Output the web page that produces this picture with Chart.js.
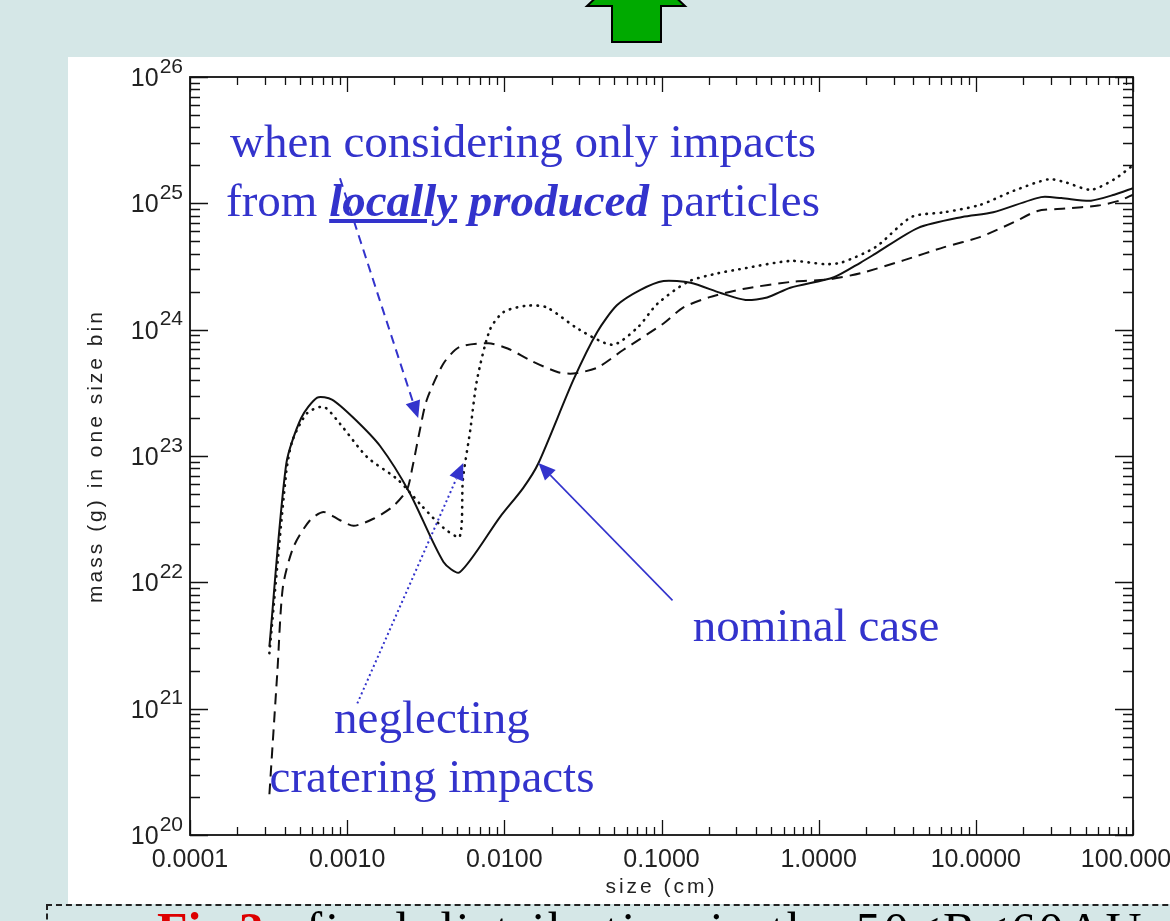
<!DOCTYPE html>
<html>
<head>
<meta charset="utf-8">
<script src="https://cdn.jsdelivr.net/npm/chart.js@4.4.1/dist/chart.umd.min.js"></script>
<style>
html,body{margin:0;padding:0;}
body{width:1170px;height:921px;overflow:hidden;position:relative;background:#d5e7e7;}
#panel{position:absolute;left:68px;top:57px;width:1102px;height:847px;background:#fff;}
#wrap{position:absolute;left:68px;top:57px;width:1102px;height:846px;}
.note{position:absolute;color:#3333cc;font-family:"Liberation Serif","Times New Roman",serif;font-size:47px;line-height:59px;text-align:center;white-space:nowrap;width:800px;}
.bi{font-weight:bold;font-style:italic;}
#caption{position:absolute;left:46px;top:904px;width:1200px;height:80px;border-top:2px dashed #222;border-left:2px dashed #222;font-family:"Liberation Serif","Times New Roman",serif;font-size:50px;line-height:60px;white-space:nowrap;}
#caption span.fig{color:#dd0000;font-weight:bold;}
#caption span.rest{color:#000;letter-spacing:3px;}
</style>
</head>
<body>
<svg style="position:absolute;left:0;top:0" width="1170" height="57">
  <polygon points="612,42 661,42 661,6 685,6 636,-40 587,6 612,6" fill="#00aa00" stroke="#000" stroke-width="2"/>
</svg>
<div id="panel"></div>
<div id="wrap"><canvas id="c" width="1102" height="846"></canvas></div>

<div class="note" style="left:123px;top:112px;">when considering only impacts<br>from <u class="bi">locally</u> <span class="bi">produced</span> particles</div>
<div class="note" style="left:416px;top:596px;">nominal case</div>
<div class="note" style="left:32px;top:688px;">neglecting<br>cratering impacts</div>

<div id="caption"><div style="position:absolute;left:109px;top:-6px;"><span class="fig">Fig.3:</span>&nbsp;&nbsp;<span class="rest">final distribution in the 50&lt;R&lt;60AU</span></div></div>

<script>
// ---- data ----
const nominalSize = [3.2e-4, 4.1e-4, 5.1e-4, 6.45e-4, 8.0e-4, 1.1e-3, 1.62e-3, 2.5e-3, 4.1e-3, 5.2e-3, 9.4e-3, 1.32e-2, 1.65e-2, 2.75e-2, 3.9e-2, 5.2e-2, 7.3e-2, 0.103, 0.153, 0.238, 0.343, 0.47, 0.66, 1.25, 1.85, 2.3, 4.3, 8.2, 12.9, 26, 35, 54, 76, 100];
const nominalMass = [3.1e21, 8.7e22, 2.0e23, 2.9e23, 2.8e23, 2.0e23, 1.2e23, 5.1e22, 1.45e22, 1.2e22, 3.3e22, 5.6e22, 8.8e22, 4.0e23, 9.6e23, 1.56e24, 2.06e24, 2.43e24, 2.35e24, 1.95e24, 1.72e24, 1.8e24, 2.15e24, 2.6e24, 3.4e24, 4.0e24, 6.4e24, 7.8e24, 8.5e24, 1.12e25, 1.1e25, 1.05e25, 1.17e25, 1.32e25];

const noCraterSize = [3.2e-4, 4.1e-4, 4.5e-4, 5.56e-4, 7.1e-4, 9.0e-4, 1.34e-3, 2.1e-3, 3.0e-3, 4.1e-3, 5.2e-3, 5.45e-3, 6.07e-3, 6.7e-3, 8.1e-3, 9.9e-3, 1.4e-2, 1.86e-2, 3.0e-2, 4.9e-2, 7.1e-2, 0.094, 0.148, 0.23, 0.31, 0.66, 1.1, 1.4, 2.3, 3.9, 6.3, 10.6, 17.5, 29, 37, 54, 76, 100];
const noCraterMass = [2.75e21, 7.5e22, 1.34e23, 2.18e23, 2.45e23, 1.8e23, 9.8e22, 6.5e22, 4.0e22, 2.7e22, 2.3e22, 6.5e22, 1.6e23, 4.0e23, 1.0e24, 1.38e24, 1.55e24, 1.5e24, 1.0e24, 7.6e23, 1.05e24, 1.6e24, 2.4e24, 2.8e24, 3.0e24, 3.5e24, 3.3e24, 3.4e24, 4.5e24, 7.8e24, 8.5e24, 9.7e24, 1.26e25, 1.55e25, 1.47e25, 1.28e25, 1.55e25, 2.0e25];

const localSize = [3.2e-4, 3.6e-4, 3.9e-4, 4.55e-4, 5.8e-4, 7.1e-4, 9.0e-4, 1.1e-3, 1.48e-3, 1.96e-3, 2.4e-3, 2.6e-3, 2.9e-3, 3.2e-3, 4.1e-3, 5.2e-3, 7.9e-3, 1.05e-2, 1.47e-2, 2.2e-2, 2.75e-2, 3.9e-2, 5.7e-2, 0.103, 0.138, 0.2, 0.33, 0.69, 1.15, 1.85, 3.5, 6.3, 10.6, 17.5, 24.7, 37, 60, 82, 100];
const localMass = [2.1e20, 2.0e21, 9.2e21, 1.9e22, 3.1e22, 3.6e22, 3.1e22, 2.8e22, 3.2e22, 4.0e22, 5.4e22, 8.1e22, 1.6e23, 2.75e23, 5.4e23, 7.3e23, 7.8e23, 7.1e23, 5.7e23, 4.6e23, 4.5e23, 5.0e23, 6.9e23, 1.12e24, 1.5e24, 1.8e24, 2.1e24, 2.4e24, 2.5e24, 2.8e24, 3.55e24, 4.5e24, 5.4e24, 7.1e24, 8.7e24, 9.1e24, 9.6e24, 1.05e25, 1.17e25];

const xTickValues = [1e-4, 1e-3, 1e-2, 1e-1, 1, 10, 100];
const xTickLabels = ['0.0001', '0.0010', '0.0100', '0.1000', '1.0000', '10.0000', '100.0000'];
const yTickExponents = [20, 21, 22, 23, 24, 25, 26];

// annotation arrows, in data coordinates (size cm, mass g)
const arrowNotes = [
  {from: [9.0e-4, 1.58e25], to: [2.83e-3, 2.0e23], dash: [9, 6], width: 2},
  {from: [1.16e-3, 1.1e21], to: [5.48e-3, 8.8e22], dash: [2, 3], width: 2},
  {from: [0.1175, 7.2e21], to: [0.01648, 8.8e22], dash: [], width: 1.6}
];

function pts(xs, ys) { return xs.map((x, i) => ({x: x, y: ys[i]})); }

// axis titles drawn with the wide tracking of the original plotting font
const titleSpacingPlugin = {
  id: 'titleSpacing',
  afterLayout(chart) {
    ['x', 'y'].forEach(id => {
      const s = chart.scales[id];
      if (!s || s._spaced) return;
      const orig = s.drawTitle.bind(s);
      s.drawTitle = function () {
        const c = this.ctx;
        const prev = c.letterSpacing;
        c.letterSpacing = '3px';
        orig();
        c.letterSpacing = prev || '0px';
      };
      s._spaced = true;
    });
  }
};

const framePlugin = {
  id: 'frame',
  afterDatasetsDraw(chart) {
    const c = chart.ctx, a = chart.chartArea, x = chart.scales.x, y = chart.scales.y;
    c.save();
    c.strokeStyle = '#111';
    c.lineWidth = 1.3;
    c.beginPath();
    for (let k = -4; k <= 2; k++) {
      for (let m = 1; m <= 9; m++) {
        const v = m * Math.pow(10, k);
        if (v > 100.0001) break;
        const px = Math.round(x.getPixelForValue(v)) + 0.5;
        const L = m === 1 ? 15 : 8;
        c.moveTo(px, a.bottom); c.lineTo(px, a.bottom - L);
        c.moveTo(px, a.top); c.lineTo(px, a.top + L);
      }
    }
    for (let k = 20; k <= 26; k++) {
      for (let m = 1; m <= 9; m++) {
        const v = m * Math.pow(10, k);
        if (v > 1.0001e26) break;
        const py = Math.round(y.getPixelForValue(v)) + 0.5;
        const L = m === 1 ? 18 : 10;
        c.moveTo(a.left, py); c.lineTo(a.left + L, py);
        c.moveTo(a.right, py); c.lineTo(a.right - L, py);
      }
    }
    c.stroke();
    c.lineWidth = 1.8;
    c.strokeRect(a.left, a.top, a.right - a.left, a.bottom - a.top);
    c.restore();

    // arrows
    const col = '#3333cc';
    arrowNotes.forEach(n => {
      const x1 = x.getPixelForValue(n.from[0]), y1 = y.getPixelForValue(n.from[1]);
      const x2 = x.getPixelForValue(n.to[0]), y2 = y.getPixelForValue(n.to[1]);
      const ang = Math.atan2(y2 - y1, x2 - x1);
      const hl = 17, hw = 7.5;
      const bx = x2 - hl * Math.cos(ang), by = y2 - hl * Math.sin(ang);
      c.save();
      c.strokeStyle = col; c.fillStyle = col;
      c.lineWidth = n.width;
      c.setLineDash(n.dash);
      c.beginPath(); c.moveTo(x1, y1); c.lineTo(bx, by); c.stroke();
      c.setLineDash([]);
      c.beginPath();
      c.moveTo(x2, y2);
      c.lineTo(bx + hw * Math.sin(ang), by - hw * Math.cos(ang));
      c.lineTo(bx - hw * Math.sin(ang), by + hw * Math.cos(ang));
      c.closePath(); c.fill();
      c.restore();
    });
  }
};

const yLabelPlugin = {
  id: 'yLabels',
  afterDraw(chart) {
    const s = chart.scales.y, c = chart.ctx, a = chart.chartArea;
    c.save();
    c.fillStyle = '#222';
    c.textBaseline = 'alphabetic';
    yTickExponents.forEach(e => {
      const py = s.getPixelForValue(Math.pow(10, e));
      const ex = String(e);
      c.font = '21px "Liberation Sans", Arial, sans-serif';
      const ew = c.measureText(ex).width;
      const right = a.left - 7;
      c.textAlign = 'left';
      c.fillText(ex, right - ew, py - 4.5);
      c.font = '25px "Liberation Sans", Arial, sans-serif';
      c.textAlign = 'right';
      c.fillText('10', right - ew - 1, py + 9);
    });
    c.restore();
  }
};

const lineBase = {borderColor: '#111', borderWidth: 2, pointRadius: 0, fill: false, tension: 0.25};

new Chart(document.getElementById('c'), {
  type: 'line',
  data: {
    datasets: [
      Object.assign({label: 'nominal case', data: pts(nominalSize, nominalMass)}, lineBase),
      Object.assign({label: 'neglecting cratering impacts', data: pts(noCraterSize, noCraterMass)}, lineBase, {borderDash: [0.5, 6.5], borderCapStyle: 'round', borderWidth: 2.6}),
      Object.assign({label: 'only impacts from locally produced particles', data: pts(localSize, localMass), borderDash: [11, 7]}, lineBase)
    ]
  },
  options: {
    responsive: false,
    animation: false,
    layout: {padding: {left: 0, right: 37, top: 20, bottom: 0}},
    plugins: {legend: {display: false}, tooltip: {enabled: false}},
    scales: {
      x: {
        type: 'logarithmic', min: 1e-4, max: 100, position: 'bottom',
        afterBuildTicks: s => { s.ticks = xTickValues.map(v => ({value: v})); },
        afterFit: s => { s.height = 68; s.paddingLeft = 0; s.paddingRight = 0; },
        ticks: {autoSkip: false, maxRotation: 0, minRotation: 0, padding: 10, color: '#222',
          font: {family: '"Liberation Sans", Arial, sans-serif', size: 25},
          callback: (v, i) => xTickLabels[i]},
        grid: {display: false, drawTicks: false},
        border: {display: false},
        title: {display: true, text: 'size (cm)', color: '#222',
          font: {family: '"Liberation Sans", Arial, sans-serif', size: 21},
          padding: {top: 0, bottom: 3}}
      },
      y: {
        type: 'logarithmic', min: 1e20, max: 1e26, position: 'left',
        afterBuildTicks: s => { s.ticks = yTickExponents.map(e => ({value: Math.pow(10, e)})); },
        afterFit: s => { s.width = 122; s.paddingTop = 0; s.paddingBottom = 0; },
        ticks: {display: false, callback: (v, i) => '10^' + yTickExponents[i]},
        grid: {display: false, drawTicks: false},
        border: {display: false},
        title: {display: true, text: 'mass (g) in one size bin', color: '#222',
          font: {family: '"Liberation Sans", Arial, sans-serif', size: 21},
          padding: {top: 16, bottom: 0}}
      }
    }
  },
  plugins: [titleSpacingPlugin, framePlugin, yLabelPlugin]
});
</script>
</body>
</html>
